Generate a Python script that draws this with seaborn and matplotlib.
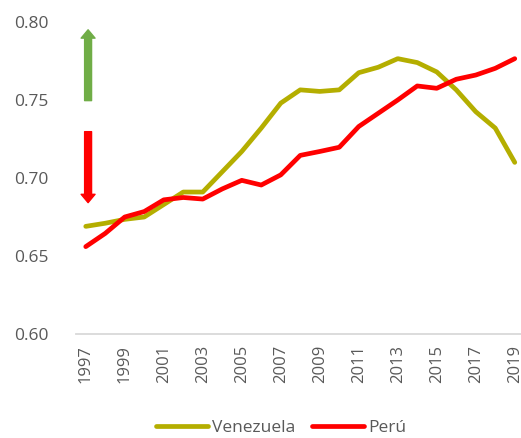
import matplotlib
matplotlib.use('Agg')
import matplotlib.pyplot as plt
import seaborn as sns
import pandas as pd

years = list(range(1997, 2020))
venezuela = [0.669, 0.671, 0.6735, 0.675, 0.683, 0.691, 0.691, 0.704, 0.717, 0.732, 0.748, 0.7565,
             0.7555, 0.7565, 0.7675, 0.771, 0.7765, 0.774, 0.768, 0.7565, 0.7425, 0.732, 0.710]
peru = [0.656, 0.6645, 0.675, 0.6785, 0.686, 0.6875, 0.6865, 0.693, 0.6985, 0.6955, 0.702, 0.7145,
        0.717, 0.7197, 0.733, 0.7415, 0.750, 0.759, 0.7575, 0.7633, 0.766, 0.7703, 0.7765]
series_names = ['Venezuela', 'Perú']
colors = ['#B4AE00', '#FF0000']

df = pd.DataFrame({
    'pos': list(range(len(years))) * 2,
    'value': venezuela + peru,
    'country': [series_names[0]] * len(years) + [series_names[1]] * len(years),
})

sns.set_style('white')
plt.rcParams['font.family'] = ['Open Sans', 'DejaVu Sans']

fig = plt.figure(figsize=(5.21, 4.38), dpi=100)
ax = fig.add_axes([76 / 521, 104 / 438, 448.5 / 521, 312 / 438])

sns.lineplot(data=df, x='pos', y='value', hue='country', palette=colors,
             linewidth=3.4, ax=ax, legend=False)

# up / down arrows next to the y axis
ax.annotate('', xy=(0.12, 0.795), xytext=(0.12, 0.7496),
            arrowprops=dict(arrowstyle='simple,head_length=0.6,head_width=1.0,tail_width=0.5',
                            mutation_scale=10, color='#70AD47', shrinkA=0, shrinkB=0))
ax.annotate('', xy=(0.12, 0.6842), xytext=(0.12, 0.7297),
            arrowprops=dict(arrowstyle='simple,head_length=0.6,head_width=1.0,tail_width=0.5',
                            mutation_scale=10, color='#FF0000', shrinkA=0, shrinkB=0))

ax.set_xlim(-0.5, len(years) - 0.5)
ax.set_ylim(0.60, 0.80)
ax.set_yticks([0.60, 0.65, 0.70, 0.75, 0.80])
ax.set_yticklabels([f'{v:.2f}' for v in [0.60, 0.65, 0.70, 0.75, 0.80]])
ax.set_xticks(range(0, len(years), 2))
ax.set_xticklabels([str(y) for y in years[::2]], rotation=90)
ax.set_xticks([i - 0.5 for i in range(0, len(years) + 1, 2)], minor=True)
ax.tick_params(axis='x', which='major', length=0, pad=8, labelsize=12, colors='#595959')
ax.tick_params(axis='x', which='minor', length=6, width=1.3, color='#D9D9D9', direction='out')
ax.tick_params(axis='y', length=0, pad=20, labelsize=12.5, colors='#595959')
ax.set_xlabel('')
ax.set_ylabel('')
for s in ['top', 'right', 'left']:
    ax.spines[s].set_visible(False)
ax.spines['bottom'].set_color('#D9D9D9')
ax.spines['bottom'].set_linewidth(1.3)
ax.grid(False)

handles = [plt.Line2D([], [], color=c, linewidth=3.4) for c in colors]
fig.legend(handles, series_names, loc='center', bbox_to_anchor=(281 / 521, 10 / 438),
           ncol=2, frameon=False, fontsize=12.5, handlelength=3.0, handletextpad=0.2,
           columnspacing=1.0, labelcolor='#595959')

fig.savefig('out.png', dpi=100)
